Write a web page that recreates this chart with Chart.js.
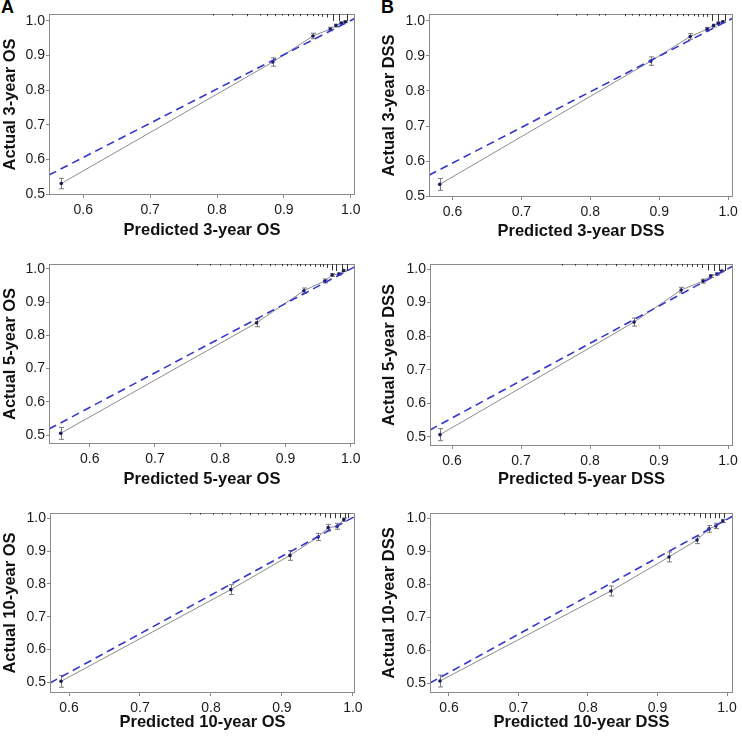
<!DOCTYPE html>
<html>
<head>
<meta charset="utf-8">
<script src="https://cdn.jsdelivr.net/npm/chart.js@4"></script>
<style>
  body { margin: 0; background: #fff; }
  #wrap { position: relative; width: 742px; height: 737px; overflow: hidden; }
  canvas { position: absolute; }
  .tag { position: absolute; font: bold 18px "Liberation Sans", Arial, sans-serif; line-height: 18px; color: #000; }
</style>
</head>
<body>
<div id="wrap">
  <div class="tag" style="left:1px;top:-2px">A</div>
  <div class="tag" style="left:381px;top:-2px">B</div>
</div>
<script>
// tick labels shared by all six panels
const xTicks = [0.6, 0.7, 0.8, 0.9, 1.0];
const yTicks = [0.5, 0.6, 0.7, 0.8, 0.9, 1.0];

const xTitles = ["Predicted 3-year OS", "Predicted 3-year DSS", "Predicted 5-year OS",
                 "Predicted 5-year DSS", "Predicted 10-year OS", "Predicted 10-year DSS"];
const yTitles = ["Actual 3-year OS", "Actual 3-year DSS", "Actual 5-year OS",
                 "Actual 5-year DSS", "Actual 10-year OS", "Actual 10-year DSS"];

// 3-year OS
const predOS3 = [0.567, 0.8835, 0.9435, 0.9695, 0.978, 0.986, 0.992];
const actOS3  = [0.531, 0.881, 0.956, 0.976, 0.986, 0.993, 0.997];
const errOS3  = [0.015, 0.012, 0.008, 0.005, 0.004, 0.003, 0.002];
const refXOS3 = [0.5487, 1.0064];
const refYOS3 = [0.5556, 1.007];
const rugOS3  = [0.794, 0.823, 0.845, 0.865, 0.875, 0.887, 0.897, 0.906, 0.914, 0.924, 0.935, 0.944, 0.951, 0.957, 0.965, 0.974, 0.983, 0.995];
const rugNOS3 = [1, 1, 2, 1, 2, 2, 1, 2, 2, 2, 2, 2, 2, 3, 4, 10, 10, 10];

// 3-year DSS
const predDSS3 = [0.5816, 0.8878, 0.945, 0.9696, 0.9788, 0.986, 0.9924];
const actDSS3  = [0.534, 0.885, 0.955, 0.976, 0.986, 0.993, 0.997];
const errDSS3  = [0.017, 0.012, 0.008, 0.005, 0.004, 0.003, 0.002];
const refXDSS3 = [0.566, 1.007];
const refYDSS3 = [0.56, 1.0077];
const rugDSS3  = [0.751, 0.780, 0.795, 0.812, 0.821, 0.850, 0.860, 0.870, 0.879, 0.886, 0.896, 0.906, 0.916, 0.926, 0.935, 0.942, 0.950, 0.957, 0.964, 0.969, 0.976, 0.986, 0.996];
const rugNDSS3 = [1, 1, 1, 1, 1, 2, 1, 2, 1, 2, 2, 2, 2, 2, 2, 2, 2, 3, 3, 3, 10, 10, 10];

// 5-year OS
const predOS5 = [0.5555, 0.8557, 0.9282, 0.9604, 0.9716, 0.982, 0.989];
const actOS5  = [0.505, 0.838, 0.9346, 0.9639, 0.982, 0.985, 0.995];
const errOS5  = [0.018, 0.012, 0.008, 0.006, 0.004, 0.003, 0.002];
const refXOS5 = [0.5376, 1.0066];
const refYOS5 = [0.518, 1.007];
const rugOS5  = [0.764, 0.784, 0.799, 0.815, 0.830, 0.840, 0.850, 0.863, 0.876, 0.884, 0.894, 0.902, 0.909, 0.917, 0.922, 0.930, 0.937, 0.945, 0.953, 0.958, 0.963, 0.971, 0.978, 0.986, 0.994];
const rugNOS5 = [1, 1, 1, 1, 1, 1, 2, 1, 2, 1, 2, 2, 1, 2, 2, 2, 2, 3, 3, 3, 5, 9, 10, 10, 10];

// 5-year DSS
const predDSS5 = [0.5826, 0.8638, 0.932, 0.9638, 0.975, 0.984, 0.991];
const actDSS5  = [0.507, 0.842, 0.9375, 0.964, 0.979, 0.985, 0.994];
const errDSS5  = [0.018, 0.012, 0.008, 0.006, 0.004, 0.003, 0.002];
const refXDSS5 = [0.5681, 1.0072];
const refYDSS5 = [0.521, 1.009];
const rugDSS5  = [0.760, 0.778, 0.795, 0.810, 0.823, 0.838, 0.851, 0.862, 0.874, 0.884, 0.893, 0.902, 0.910, 0.918, 0.926, 0.934, 0.941, 0.948, 0.955, 0.963, 0.971, 0.979, 0.987, 0.995];
const rugNDSS5 = [1, 1, 1, 1, 1, 2, 1, 2, 1, 2, 2, 1, 2, 2, 2, 2, 3, 3, 3, 5, 9, 10, 10, 10];

// 10-year OS
const predOS10 = [0.5887, 0.828, 0.9113, 0.951, 0.9652, 0.9779, 0.9873];
const actOS10  = [0.503, 0.7826, 0.887, 0.943, 0.9716, 0.9756, 0.996];
const errOS10  = [0.018, 0.015, 0.015, 0.011, 0.010, 0.009, 0.005];
const refXOS10 = [0.5732, 1.003];
const refYOS10 = [0.498, 1.006];
const rugOS10  = [0.770, 0.785, 0.803, 0.815, 0.827, 0.841, 0.855, 0.866, 0.876, 0.886, 0.897, 0.907, 0.915, 0.925, 0.932, 0.939, 0.946, 0.954, 0.961, 0.968, 0.975, 0.982, 0.989, 0.993];
const rugNOS10 = [1, 1, 1, 1, 1, 1, 2, 1, 2, 1, 2, 2, 2, 2, 2, 2, 2, 3, 6, 7, 7, 7, 7, 7];

// 10-year DSS
const predDSS10 = [0.587, 0.833, 0.9165, 0.9568, 0.974, 0.984, 0.994];
const actDSS10  = [0.506, 0.7788, 0.882, 0.9333, 0.967, 0.976, 0.991];
const errDSS10  = [0.018, 0.015, 0.015, 0.011, 0.010, 0.008, 0.005];
const refXDSS10 = [0.5727, 1.0086];
const refYDSS10 = [0.5, 1.006];
const rugDSS10  = [0.765, 0.782, 0.800, 0.813, 0.826, 0.840, 0.853, 0.865, 0.876, 0.886, 0.896, 0.905, 0.914, 0.923, 0.931, 0.938, 0.946, 0.953, 0.961, 0.968, 0.975, 0.982, 0.989, 0.995];
const rugNDSS10 = [1, 1, 1, 1, 1, 1, 2, 1, 2, 1, 2, 2, 2, 2, 2, 2, 2, 3, 6, 7, 7, 7, 7, 7];

// axis ranges per panel (value space of the printed labels)
const xRanges = [[0.5487, 1.0064], [0.566, 1.007], [0.5376, 1.0066], [0.5681, 1.0072], [0.5732, 1.003], [0.5727, 1.0086]];
const yRanges = [[0.498, 1.0193], [0.498, 1.0191], [0.4729, 1.015], [0.4732, 1.0149], [0.4674, 1.0162], [0.4697, 1.0152]];

const series = [
  [predOS3, actOS3, errOS3, refXOS3, refYOS3, rugOS3, rugNOS3],
  [predDSS3, actDSS3, errDSS3, refXDSS3, refYDSS3, rugDSS3, rugNDSS3],
  [predOS5, actOS5, errOS5, refXOS5, refYOS5, rugOS5, rugNOS5],
  [predDSS5, actDSS5, errDSS5, refXDSS5, refYDSS5, rugDSS5, rugNDSS5],
  [predOS10, actOS10, errOS10, refXOS10, refYOS10, rugOS10, rugNOS10],
  [predDSS10, actDSS10, errDSS10, refXDSS10, refYDSS10, rugDSS10, rugNDSS10],
];

// page layout: canvas rect, plot box, title centres
const layout = [
  {x: 0,   y: 0,   w: 370, h: 245, l: 49,  r: 355, t: 14,  b: 195, tx: 230, ty: 10},
  {x: 370, y: 0,   w: 372, h: 245, l: 429, r: 733, t: 14,  b: 197, tx: 231, ty: 389},
  {x: 0,   y: 248, w: 370, h: 245, l: 49,  r: 355, t: 264, b: 444, tx: 479, ty: 10},
  {x: 370, y: 248, w: 372, h: 245, l: 430, r: 733, t: 264, b: 446, tx: 479, ty: 389},
  {x: 0,   y: 496, w: 370, h: 241, l: 50,  r: 355, t: 513, b: 693, tx: 722, ty: 10},
  {x: 370, y: 496, w: 372, h: 241, l: 430, r: 733, t: 513, b: 693, tx: 722, ty: 389},
];

const FONT = '"Liberation Sans", Arial, sans-serif';
const wrap = document.getElementById('wrap');

// plot frame
const boxPlugin = {
  id: 'box',
  afterDraw(chart) {
    const a = chart.chartArea, ctx = chart.ctx;
    ctx.save();
    ctx.strokeStyle = '#8a8a8a';
    ctx.lineWidth = 1;
    ctx.strokeRect(a.left + 0.5, a.top + 0.5, a.right - a.left - 1, a.bottom - a.top - 1);
    ctx.restore();
  }
};

// error bars with caps
const errPlugin = {
  id: 'errbars',
  beforeDatasetsDraw(chart) {
    const ds = chart.data.datasets[1];
    const xs = chart.scales.x, ys = chart.scales.y, ctx = chart.ctx;
    ctx.save();
    ctx.strokeStyle = '#7a7a7a';
    ctx.lineWidth = 1;
    ds.data.forEach((p, i) => {
      const px = Math.round(xs.getPixelForValue(p.x)) + 0.5;
      const y1 = ys.getPixelForValue(p.y - ds.err[i]);
      const y2 = ys.getPixelForValue(p.y + ds.err[i]);
      ctx.beginPath();
      ctx.moveTo(px, y1); ctx.lineTo(px, y2);
      ctx.moveTo(px - 2.5, y1); ctx.lineTo(px + 2.5, y1);
      ctx.moveTo(px - 2.5, y2); ctx.lineTo(px + 2.5, y2);
      ctx.stroke();
    });
    ctx.restore();
  }
};

// spike histogram of predictions hanging from the top frame
const rugPlugin = {
  id: 'rug',
  afterDraw(chart) {
    const ds = chart.data.datasets[1];
    const xs = chart.scales.x, top = chart.chartArea.top, ctx = chart.ctx;
    ctx.save();
    ctx.strokeStyle = '#333';
    ctx.lineWidth = 1;
    ds.rug.forEach((v, i) => {
      const px = Math.round(xs.getPixelForValue(v)) + 0.5;
      ctx.beginPath();
      ctx.moveTo(px, top);
      ctx.lineTo(px, top + 1 + ds.rugN[i] * 0.6);
      ctx.stroke();
    });
    ctx.restore();
  }
};

layout.forEach((p, k) => {
  const [pred, act, err, refX, refY, rug, rugN] = series[k];
  const canvas = document.createElement('canvas');
  canvas.width = p.w;
  canvas.height = p.h;
  canvas.style.left = p.x + 'px';
  canvas.style.top = p.y + 'px';
  wrap.appendChild(canvas);

  new Chart(canvas, {
    type: 'scatter',
    data: {
      datasets: [
        {
          type: 'line',
          data: refX.map((x, i) => ({x: x, y: refY[i]})),
          borderColor: '#3535d0',
          borderWidth: 1.6,
          borderDash: [8, 5],
          pointRadius: 0,
          order: 1
        },
        {
          type: 'line',
          data: pred.map((x, i) => ({x: x, y: act[i]})),
          err: err,
          rug: rug,
          rugN: rugN,
          borderColor: '#8c8c8c',
          borderWidth: 1,
          pointRadius: 1.8,
          pointBorderWidth: 0,
          pointBackgroundColor: '#1b1b60',
          order: 2
        }
      ]
    },
    options: {
      responsive: false,
      animation: false,
      devicePixelRatio: 1,
      layout: { padding: { top: p.t - p.y, right: p.x + p.w - p.r, left: 0, bottom: 0 } },
      plugins: { legend: { display: false }, tooltip: { enabled: false } },
      scales: {
        x: {
          type: 'linear',
          min: xRanges[k][0],
          max: xRanges[k][1],
          afterBuildTicks: s => { s.ticks = xTicks.map(v => ({value: v})); },
          afterFit: s => { s.height = p.y + p.h - p.b; },
          ticks: { callback: v => v.toFixed(1), color: '#1a1a1a', font: { family: FONT, size: 14 }, padding: 4, maxRotation: 0, autoSkip: false },
          grid: { drawOnChartArea: false, tickLength: 3, color: '#8a8a8a' },
          border: { display: false },
          title: {
            display: true, text: xTitles[k], color: '#111',
            font: { family: FONT, size: 16.5, weight: 'bold', lineHeight: 1 },
            padding: { top: 0, bottom: p.y + p.h - p.tx - 8.25 }
          }
        },
        y: {
          type: 'linear',
          min: yRanges[k][0],
          max: yRanges[k][1],
          afterBuildTicks: s => { s.ticks = yTicks.map(v => ({value: v})); },
          afterFit: s => { s.width = p.l - p.x; },
          ticks: { callback: v => v.toFixed(1), color: '#1a1a1a', font: { family: FONT, size: 14 }, padding: 1, autoSkip: false },
          grid: { drawOnChartArea: false, tickLength: 3, color: '#8a8a8a' },
          border: { display: false },
          title: {
            display: true, text: yTitles[k], color: '#111',
            font: { family: FONT, size: 16.5, weight: 'bold', lineHeight: 1 },
            padding: { top: p.ty - p.x - 8.25, bottom: 0 }
          }
        }
      }
    },
    plugins: [boxPlugin, errPlugin, rugPlugin]
  });
});
</script>
</body>
</html>
